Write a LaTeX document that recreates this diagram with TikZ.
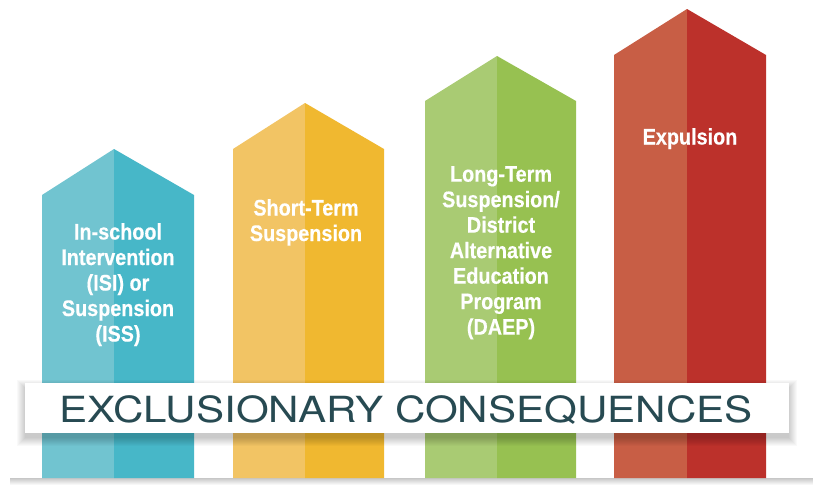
\documentclass[tikz,border=0pt]{standalone}
\usepackage{fontspec}
\usepackage{graphicx}
\newfontfamily\barfont[FakeStretch=0.88,FakeBold=0.4]{Liberation Sans}
\newfontfamily\bannerfont{TeX Gyre Heros}
\definecolor{blueL}{HTML}{71C4D0}
\definecolor{blueD}{HTML}{47B7C8}
\definecolor{yelL}{HTML}{F2C464}
\definecolor{yelD}{HTML}{F0B830}
\definecolor{grnL}{HTML}{A9CB73}
\definecolor{grnD}{HTML}{97C151}
\definecolor{redL}{HTML}{C85E45}
\definecolor{redD}{HTML}{BC312B}
\definecolor{bannertext}{HTML}{274A52}
\tikzset{
  bartext/.style={text=white, align=center, anchor=north, inner sep=0pt,
    font=\barfont\bfseries\fontsize{22.5}{25.5}\selectfont},
  bannerbox/.style={fill=white},
}
% #1 left, #2 split, #3 right, #4 apex y, #5 shoulder y, #6 light, #7 dark
\newcommand\myarrow[7]{%
  \fill[#6] (#1,478) -- (#1,#5) -- (#2,#4) -- (#2,478) -- cycle;
  \fill[#7] (#2,478) -- (#2,#4) -- (#3,#5) -- (#3,478) -- cycle;
}
\begin{document}
\begin{tikzpicture}[x=1pt,y=-1pt]
\useasboundingbox (0,0) rectangle (813,485);
\fill[white] (0,0) rectangle (813,485);
% floor shadow
\shade[top color=black!22, bottom color=white] (10,478) rectangle (813,485);
% arrows
\myarrow{42}{114}{194}{149}{195}{blueL}{blueD}
\myarrow{233}{305}{384}{103}{149}{yelL}{yelD}
\myarrow{425}{497}{576}{56}{101}{grnL}{grnD}
\myarrow{614}{687}{766}{9}{55}{redL}{redD}
% labels
\node[bartext] (isi) at (118,223) {In-school\\Intervention\\(ISI) or\\Suspension\\(ISS)};
\node[bartext] (sts) at (306,199) {Short-Term\\Suspension};
\node[bartext] (lts) at (501,166) {Long-Term\\Suspension/\\District\\Alternative\\Education\\Program\\(DAEP)};
\node[bartext] (exp) at (690,128) {Expulsion};
% banner shadow
\foreach \i in {1,...,9} {
  \fill[black, opacity=0.022] (25-\i+1,383-\i+6) rectangle (789+\i-1,433+\i+4);
}
\fill[bannerbox] (25,383) rectangle (789,433);
\node[anchor=base, inner sep=0pt, text=bannertext,
  font=\bannerfont\fontsize{36}{40}\selectfont] (banner) at (406,422)
  {\scalebox{1.17}[1]{EXCLUSIONARY CONSEQUENCES}};
\end{tikzpicture}
\end{document}
